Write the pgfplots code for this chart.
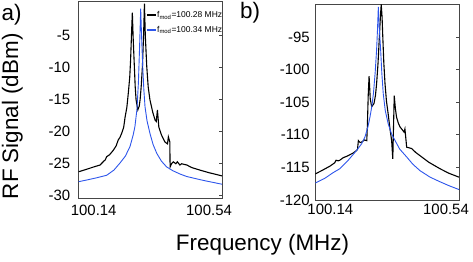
\documentclass[border=0pt]{standalone}
\usepackage{fontspec}
\setmainfont{Liberation Sans}
\usepackage{pgfplots}
\pgfplotsset{compat=1.18}
\definecolor{myblue}{RGB}{45,85,235}
\definecolor{axgray}{RGB}{70,70,70}
\begin{document}
\begin{tikzpicture}
\path[use as bounding box] (0,0) rectangle (473bp,262bp);
\pgfplotsset{myax/.style={
  scale only axis, anchor=south west,
  axis line style={axgray,line width=0.8bp},
  xmin=100.088, xmax=100.585,
  xtick={100.14,100.54}, xticklabels={100.14,100.54},
  xtick style={draw=none},
  ytick pos=right, yticklabel pos=left,
  tick align=inside, major tick length=3bp,
  ytick style={axgray,line width=0.8bp},
  tick label style={font=\fontsize{15}{17}\selectfont},
  clip=true,
}}
% ---------------- panel a
\begin{axis}[myax, at={(78.7bp,64bp)}, width=143.3bp, height=196.3bp,
  ymin=-30.35, ymax=0.3,
  ytick={-30,-25,-20,-15,-10,-5}, yticklabels={-30,-25,-20,-15,-10,-5},
  yticklabel style={xshift=-5bp},
  xticklabel style={yshift=-4bp},
  legend style={at={(0.47,0.955)}, anchor=north west, draw=none, fill=none,
    font=\fontsize{8.5}{9}\selectfont, inner sep=0pt, row sep=6bp,
    nodes={inner sep=0.6bp}},
  legend cell align=left,
  legend image code/.code={\draw[#1,line width=1.3bp] (0bp,0bp) -- (9bp,0bp);},
]
\addplot[black, line width=1.1bp] coordinates {
(100.088,-26.25) (100.12,-25.8) (100.14,-25.5) (100.162,-25.2) (100.175,-24.6)
(100.180,-24.4) (100.185,-23.9) (100.195,-23.6) (100.208,-22.9) (100.218,-22.2)
(100.225,-21.3) (100.231,-20.9) (100.237,-20.25) (100.244,-19.3) (100.249,-17.7)
(100.255,-16.2) (100.260,-14.0) (100.265,-11.5) (100.268,-8.8) (100.271,-5.0)
(100.274,-1.4) (100.277,-5.5) (100.281,-9.8) (100.284,-13.0) (100.287,-15.0)
(100.293,-16.6) (100.298,-16.0) (100.301,-15.0) (100.305,-12.8) (100.309,-9.8)
(100.313,-5.0) (100.316,0) (100.319,-5.0) (100.324,-9.8) (100.329,-13.0)
(100.335,-15.0) (100.345,-17.0) (100.353,-18.2) (100.357,-18.4) (100.361,-16.6)
(100.366,-19.3) (100.375,-20.5) (100.387,-21.6) (100.396,-21.9) (100.399,-20.8)
(100.404,-21.6) (100.405,-25.5) (100.410,-25.0) (100.416,-24.7) (100.425,-25.0)
(100.430,-24.7) (100.439,-25.2) (100.445,-25.0) (100.463,-25.2) (100.48,-25.6)
(100.509,-26.0) (100.54,-26.4) (100.585,-26.9)
};
\addlegendentry{f\textsubscript{mod}=100.28 MHz}
\addplot[myblue, line width=0.9bp] coordinates {
(100.088,-27.8) (100.12,-27.5) (100.15,-27.2) (100.185,-26.8) (100.21,-26.0)
(100.231,-24.9) (100.25,-23.8) (100.266,-22.3) (100.277,-20.5) (100.283,-19.2)
(100.29,-16.5) (100.295,-12.4) (100.299,-7.0) (100.303,-0.8) (100.306,-5.0)
(100.310,-9.8) (100.314,-13.5) (100.318,-16.1) (100.325,-18.3) (100.335,-20.25)
(100.346,-22.0) (100.359,-23.4) (100.375,-24.6) (100.393,-25.5) (100.415,-26.1)
(100.439,-26.6) (100.463,-27.0) (100.52,-27.6) (100.585,-28.2)
};
\addlegendentry{f\textsubscript{mod}=100.34 MHz}
\end{axis}
% ---------------- panel b
\begin{axis}[myax, at={(315.3bp,62bp)}, width=143.7bp, height=195.7bp,
  ymin=-120, ymax=-90,
  ytick={-120,-115,-110,-105,-100,-95}, yticklabels={-120,-115,-110,-105,-100,-95},
  yticklabel style={xshift=-2bp},
  xticklabel style={yshift=-1bp},
]
\addplot[black, line width=1.1bp] coordinates {
(100.088,-116.0) (100.11,-115.5) (100.139,-114.8) (100.155,-114.3) (100.160,-113.9)
(100.167,-114.0) (100.173,-113.9) (100.185,-113.5) (100.197,-113.3) (100.210,-113.0)
(100.219,-112.8) (100.231,-112.4) (100.234,-112.2) (100.237,-110.9) (100.243,-111.2)
(100.249,-111.1) (100.258,-110.8) (100.266,-110.9) (100.268,-108.8) (100.271,-104.0)
(100.274,-101.0) (100.278,-104.5) (100.283,-105.7) (100.291,-105.2) (100.296,-104.0)
(100.300,-102.2) (100.305,-99.0) (100.309,-95.5) (100.313,-92.0) (100.316,-90.0)
(100.319,-92.0) (100.321,-94.5) (100.325,-99.0) (100.329,-102.1) (100.334,-104.8)
(100.340,-106.8) (100.346,-109.0) (100.352,-110.9) (100.356,-113.7) (100.361,-104.0)
(100.365,-106.0) (100.369,-107.3) (100.375,-108.2) (100.381,-108.8) (100.390,-109.3)
(100.395,-109.6) (100.398,-109.1) (100.404,-111.9) (100.412,-112.0) (100.421,-112.1)
(100.435,-112.7) (100.450,-113.2) (100.48,-114.2) (100.519,-115.2) (100.55,-115.9)
(100.585,-116.5)
};
\addplot[myblue, line width=0.9bp] coordinates {
(100.088,-117.4) (100.12,-116.7) (100.150,-115.8) (100.173,-115.2) (100.20,-114.0)
(100.231,-112.4) (100.248,-111.4) (100.260,-110.3) (100.270,-108.8) (100.277,-107.3)
(100.284,-105.5) (100.289,-103.7) (100.295,-100.5) (100.300,-97.0) (100.303,-94.0)
(100.306,-90.4) (100.309,-93.5) (100.314,-97.0) (100.318,-100.5) (100.323,-103.7)
(100.330,-106.3) (100.340,-108.3) (100.351,-109.8) (100.364,-110.9) (100.38,-112.2)
(100.404,-113.4) (100.425,-114.5) (100.450,-115.5) (100.485,-116.5) (100.519,-117.2)
(100.550,-117.8) (100.585,-118.4)
};
\end{axis}
% ---------------- labels
\node[font=\fontsize{22.5}{25}\selectfont, rotate=90, anchor=base] at (18bp,145.7bp) {RF Signal (dBm)};
\node[font=\fontsize{22.5}{25}\selectfont, anchor=base] at (262.5bp,11.3bp) {Frequency (MHz)};
\node[font=\fontsize{22.5}{25}\selectfont, anchor=base west, inner sep=0pt] at (1.5bp,241bp) {a)};
\node[font=\fontsize{22.5}{25}\selectfont, anchor=base west, inner sep=0pt] at (240bp,243bp) {b)};
\end{tikzpicture}
\end{document}
